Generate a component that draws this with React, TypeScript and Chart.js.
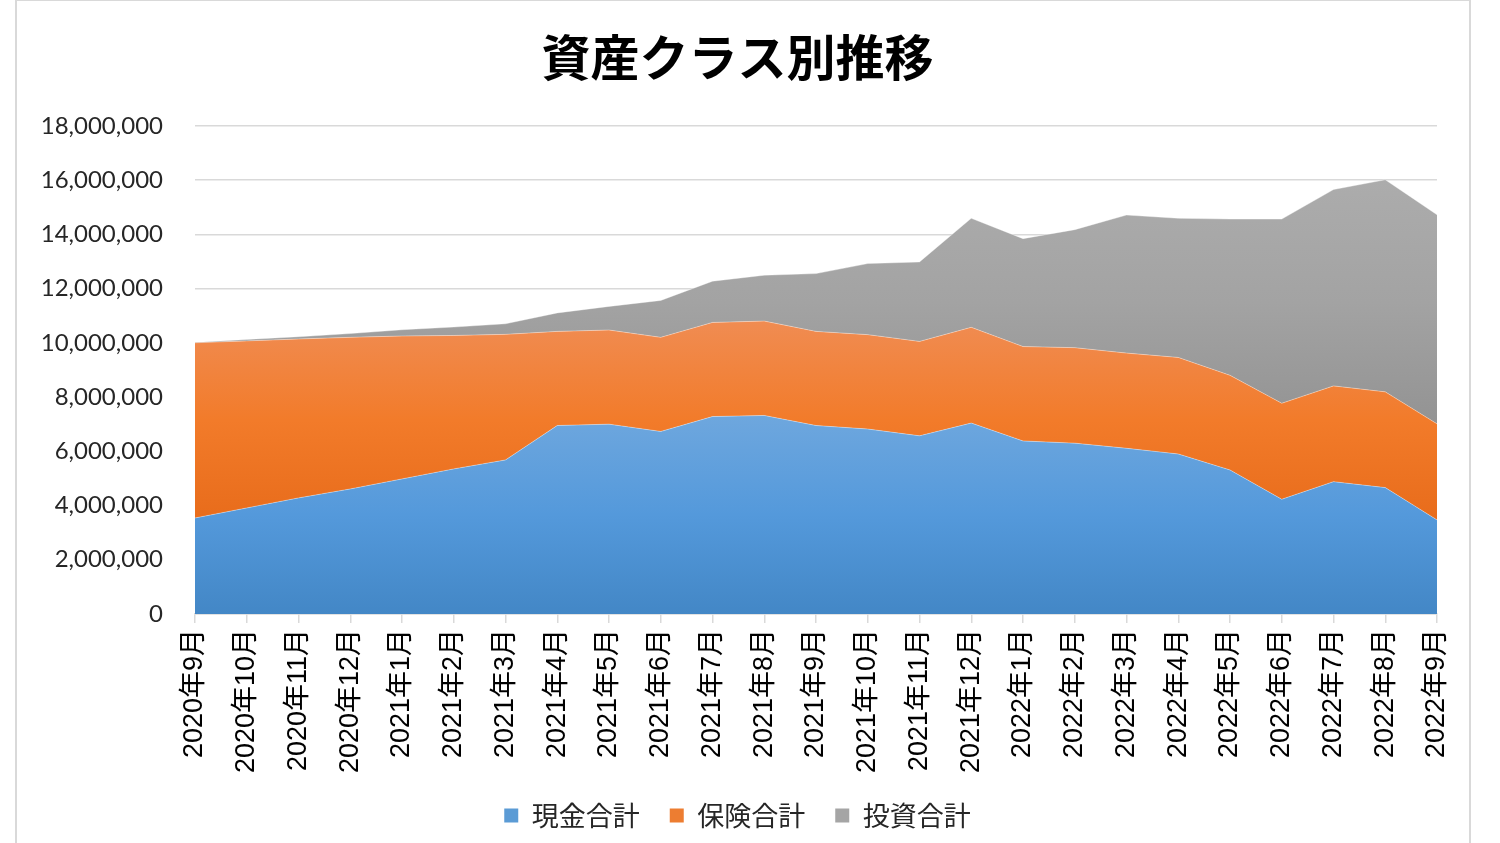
import React, { useEffect, useRef } from "react";
import { Chart, registerables } from "chart.js";

Chart.register(...registerables);

const labels = [
  "2020年9月", "2020年10月", "2020年11月", "2020年12月",
  "2021年1月", "2021年2月", "2021年3月", "2021年4月", "2021年5月", "2021年6月",
  "2021年7月", "2021年8月", "2021年9月", "2021年10月", "2021年11月", "2021年12月",
  "2022年1月", "2022年2月", "2022年3月", "2022年4月", "2022年5月", "2022年6月",
  "2022年7月", "2022年8月", "2022年9月",
];

const cash = [
  3540000, 3910000, 4280000, 4610000, 4980000, 5350000, 5680000, 6950000, 7000000, 6730000,
  7280000, 7320000, 6950000, 6820000, 6570000, 7040000, 6380000, 6300000, 6110000, 5900000,
  5310000, 4230000, 4880000, 4660000, 3470000,
];

const insurance = [
  6460000, 6160000, 5860000, 5590000, 5270000, 4920000, 4630000, 3470000, 3470000, 3470000,
  3470000, 3480000, 3470000, 3480000, 3480000, 3530000, 3480000, 3520000, 3510000, 3560000,
  3490000, 3540000, 3530000, 3530000, 3540000,
];

const invest = [
  10000, 50000, 80000, 140000, 230000, 310000, 390000, 680000, 870000, 1360000,
  1520000, 1690000, 2130000, 2620000, 2930000, 4020000, 3980000, 4350000, 5090000, 5130000,
  5760000, 6790000, 7240000, 7820000, 7710000,
];

const seriesNames = ["現金合計", "保険合計", "投資合計"];
const legendColors = ["#5b9bd5", "#ed7d31", "#a5a5a5"];
const gradientStops = [
  ["#6ea7de", "#5499db", "#4387c6"],
  ["#f08c52", "#f27b2a", "#e86c1b"],
  ["#acacac", "#a3a3a3", "#939393"],
];

export default function App() {
  const ref = useRef<HTMLCanvasElement | null>(null);

  useEffect(() => {
    if (!ref.current) return;
    const series = [cash, insurance, invest];
    const cum: number[][] = [];
    series.forEach((s, i) => {
      cum.push(s.map((v, j) => v + (i > 0 ? cum[i - 1][j] : 0)));
    });

    const makeBg = (i: number) => (context: any) => {
      const chart = context.chart;
      const { chartArea, scales } = chart;
      if (!chartArea || !scales || !scales.y) return legendColors[i];
      const topVal = Math.max(...cum[i]);
      const botVal = i > 0 ? Math.min(...cum[i - 1]) : 0;
      const y0 = scales.y.getPixelForValue(topVal);
      const y1 = scales.y.getPixelForValue(botVal);
      const g = chart.ctx.createLinearGradient(0, y0, 0, y1);
      g.addColorStop(0, gradientStops[i][0]);
      g.addColorStop(0.5, gradientStops[i][1]);
      g.addColorStop(1, gradientStops[i][2]);
      return g;
    };

    const chart = new Chart(ref.current, {
      type: "line",
      data: {
        labels,
        datasets: series.map((s, i) => ({
          label: seriesNames[i],
          data: s,
          fill: i === 0 ? "origin" : "-1",
          backgroundColor: makeBg(i),
          borderColor: "rgba(255,255,255,0.35)",
          borderWidth: 1,
          pointRadius: 0,
          tension: 0,
        })),
      },
      options: {
        responsive: false,
        animation: false,
        layout: { padding: { left: 0, right: 63, top: 0, bottom: 4 } },
        plugins: {
          title: {
            display: true,
            text: "資産クラス別推移",
            color: "#000000",
            font: { family: "'Noto Sans CJK JP', sans-serif", size: 49, weight: "bold", lineHeight: 1.2 },
            padding: { top: 28, bottom: 39 },
          },
          legend: {
            position: "bottom",
            labels: {
              boxWidth: 14,
              boxHeight: 14,
              padding: 30,
              color: "#262626",
              font: { family: "'Noto Sans CJK JP', sans-serif", size: 27, lineHeight: 1.2 },
              generateLabels: (c: any) =>
                c.data.datasets.map((d: any, i: number) => ({
                  text: d.label,
                  fillStyle: legendColors[i],
                  strokeStyle: legendColors[i],
                  lineWidth: 0,
                  hidden: false,
                  datasetIndex: i,
                  fontColor: "#262626",
                })),
            },
          },
          tooltip: { enabled: false },
        },
        scales: {
          x: {
            offset: false,
            afterFit: (scale: any) => {
              scale.height = 158;
            },
            grid: {
              drawOnChartArea: false,
              drawTicks: true,
              tickLength: 9,
              color: "#d9d9d9",
              lineWidth: 1.5,
            },
            border: { color: "#d9d9d9", width: 1.5 },
            ticks: {
              autoSkip: false,
              minRotation: 90,
              maxRotation: 90,
              padding: 6,
              color: "#000000",
              font: { family: "'Liberation Sans', 'Noto Sans CJK JP', sans-serif", size: 27 },
            },
          },
          y: {
            stacked: true,
            min: 0,
            max: 18000000,
            afterFit: (scale: any) => {
              scale.width = 157;
            },
            grid: { color: "#d9d9d9", lineWidth: 1.5, drawTicks: false },
            border: { display: false },
            ticks: {
              stepSize: 2000000,
              padding: 32,
              color: "#262626",
              font: { family: "Lato, 'Liberation Sans', sans-serif", size: 24 },
              callback: (v: any) => Number(v).toLocaleString("en-US"),
            },
          },
        },
      },
    });
    return () => chart.destroy();
  }, []);

  return (
    <div style={{ position: "fixed", left: 0, top: 0, width: 1500, height: 843, overflow: "hidden", background: "#ffffff" }}>
      <div
        style={{
          position: "absolute",
          left: 15,
          top: -1,
          width: 1456,
          height: 900,
          border: "2px solid #d9d9d9",
          boxSizing: "border-box",
        }}
      />
      <canvas ref={ref} width={1462} height={843} style={{ position: "absolute", left: 38, top: 0, width: 1462, height: 843 }} />
    </div>
  );
}
